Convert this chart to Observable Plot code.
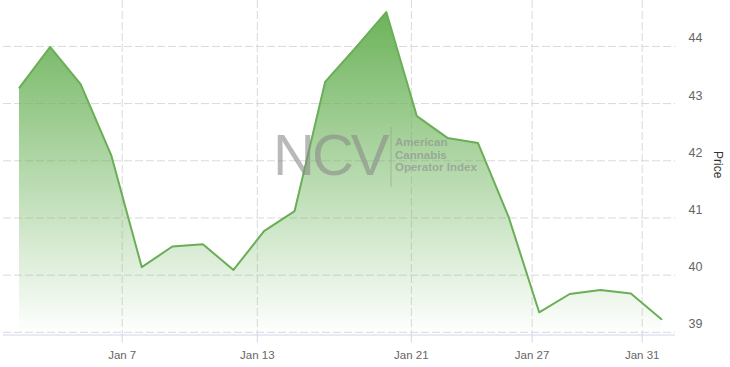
<!DOCTYPE html>
<html>
<head>
<meta charset="utf-8">
<script src="https://cdn.jsdelivr.net/npm/d3@7"></script>
<script src="https://cdn.jsdelivr.net/npm/@observablehq/plot@0.6"></script>
<style>
  html, body { margin: 0; padding: 0; background: #fff; }
  #chart { width: 730px; height: 367px; }
</style>
</head>
<body>
<div id="chart"></div>
<script>
// Trading-session index (ordinal x axis) and closing prices
const sessionIndex = d3.range(22);
const prices = [43.28, 43.99, 43.34, 42.10, 40.14, 40.50, 40.54, 40.09, 40.77, 41.12,
                43.38, 43.98, 44.60, 42.78, 42.40, 42.31, 41.02, 39.35, 39.67, 39.74,
                39.68, 39.23];

// x-axis ticks (positions on the ordinal index scale) and labels
const xTickPositions = [3.36, 7.78, 12.82, 16.77, 20.37];
const xTickLabels = ["Jan 7", "Jan 13", "Jan 21", "Jan 27", "Jan 31"];

// y-axis ticks
const yTicks = [39, 40, 41, 42, 43, 44];
const yDomain = [38.953, 44.803];
const xDomain = [-0.523, 21.46];

const data = sessionIndex.map((i) => ({i, price: prices[i], base: yDomain[0]}));

const gridColor = "#d9d9d9";
const lineColor = "#6aae57";

const gradientDefs = () => {
  const defs = d3.create("svg:defs");
  const g = defs.append("linearGradient")
    .attr("id", "ncvGrad").attr("x1", 0).attr("y1", 0).attr("x2", 0).attr("y2", 1);
  g.append("stop").attr("offset", "0%").attr("stop-color", "#6cb35a").attr("stop-opacity", 1);
  g.append("stop").attr("offset", "45%").attr("stop-color", "#6cb35a").attr("stop-opacity", 0.55);
  g.append("stop").attr("offset", "100%").attr("stop-color", "#6cb35a").attr("stop-opacity", 0.0);
  return defs.node();
};

const watermark = () => {
  const g = d3.create("svg:g").attr("pointer-events", "none").attr("text-anchor", "start");
  g.append("text").attr("x", 273).attr("y", 175)
    .attr("font-size", 58).attr("letter-spacing", -3)
    .attr("fill", "#8a8a8a").attr("fill-opacity", 0.6).text("NCV");
  g.append("line").attr("x1", 391).attr("x2", 391).attr("y1", 127).attr("y2", 187)
    .attr("stroke", "#8a8a8a").attr("stroke-opacity", 0.45);
  const lines = ["American", "Cannabis", "Operator Index"];
  lines.forEach((t, k) => {
    g.append("text").attr("x", 395).attr("y", 146 + k * 12.5)
      .attr("font-size", 11.5).attr("font-weight", "bold")
      .attr("fill", "#8a8a8a").attr("fill-opacity", 0.6).text(t);
  });
  return g.node();
};

const chart = Plot.plot({
  width: 730,
  height: 367,
  marginLeft: 3,
  marginRight: 55,
  marginTop: 0,
  marginBottom: 32.5,
  style: {fontFamily: "'Liberation Sans', Arial, sans-serif", fontSize: "12px", background: "#fff"},
  x: {type: "linear", domain: xDomain, axis: null},
  y: {domain: yDomain, axis: null},
  marks: [
    gradientDefs,
    Plot.gridY(yTicks, {stroke: gridColor, strokeOpacity: 1, strokeDasharray: "8,3"}),
    Plot.gridX(xTickPositions, {stroke: gridColor, strokeOpacity: 1, strokeDasharray: "8,3"}),
    Plot.areaY(data, {x: "i", y1: "base", y2: "price", fill: "url(#ncvGrad)"}),
    Plot.lineY(data, {x: "i", y: "price", stroke: lineColor, strokeWidth: 2}),
    Plot.ruleY([yDomain[0]], {stroke: "#ccd6eb", strokeWidth: 1}),
    Plot.axisX({
      ticks: xTickPositions,
      tickFormat: (d) => xTickLabels[xTickPositions.indexOf(d)],
      tickSize: 8, tickPadding: 8,
      stroke: "#ccd6eb", fill: "#666", fontSize: 11.5, label: null
    }),
    Plot.axisY({
      anchor: "right", ticks: yTicks, tickFormat: (d) => String(d),
      tickSize: 0, tickPadding: 13, dy: -8,
      textAnchor: "start", fill: "#666", fontSize: 12.5, label: null
    }),
    Plot.text(["Price"], {
      text: (d) => d, frameAnchor: "right", dx: 42, dy: -3, rotate: 90,
      textAnchor: "middle", fill: "#333", fontSize: 12
    }),
    watermark
  ]
});

document.getElementById("chart").appendChild(chart);
</script>
</body>
</html>
